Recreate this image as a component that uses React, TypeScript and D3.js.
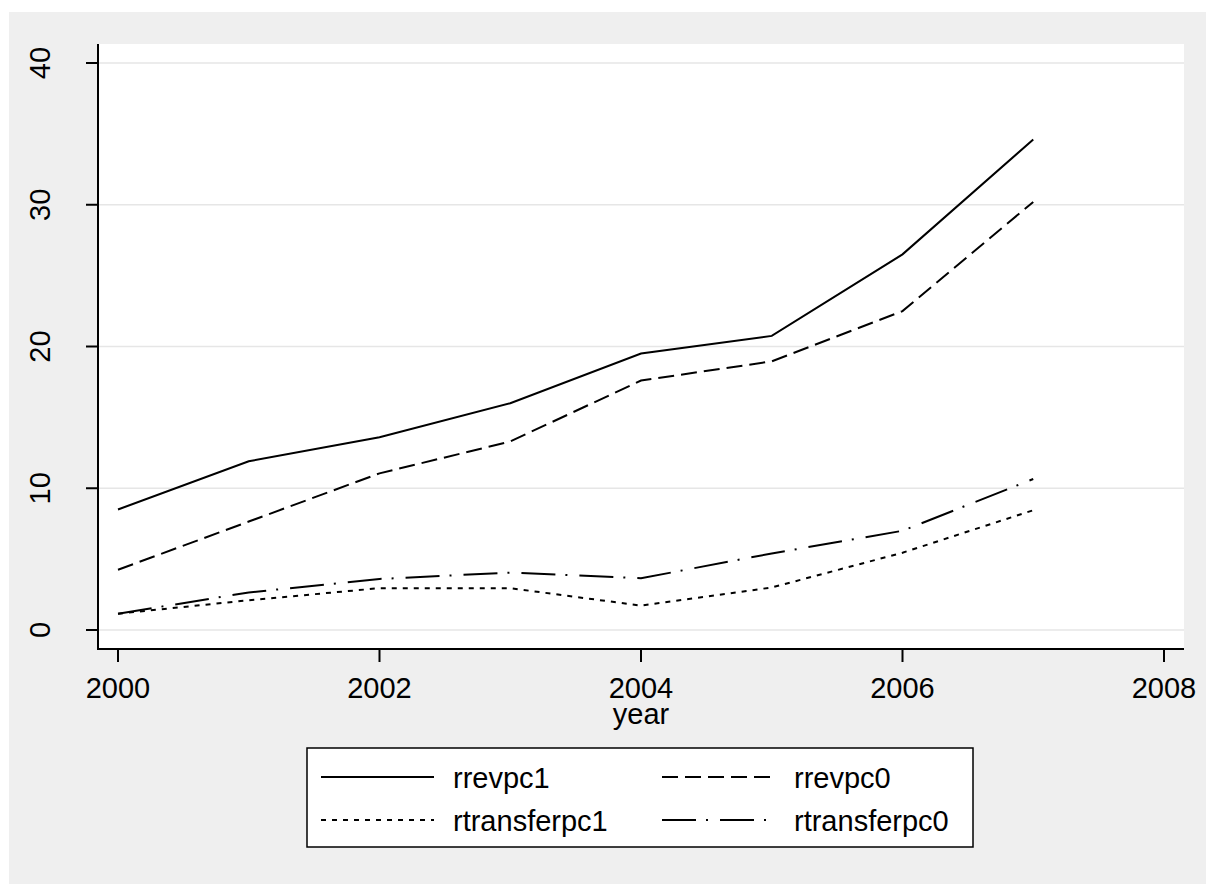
import { useEffect } from "react";
import * as d3 from "d3";

const years = [2000, 2001, 2002, 2003, 2004, 2005, 2006, 2007];
const rrevpc1 = [8.5, 11.9, 13.6, 16.0, 19.5, 20.75, 26.5, 34.6];
const rrevpc0 = [4.25, 7.65, 11.05, 13.3, 17.6, 18.95, 22.5, 30.2];
const rtransferpc1 = [1.15, 2.1, 2.95, 2.95, 1.72, 3.0, 5.45, 8.45];
const rtransferpc0 = [1.15, 2.65, 3.6, 4.05, 3.65, 5.4, 7.0, 10.65];
const xTicks = [2000, 2002, 2004, 2006, 2008];
const yTicks = [0, 10, 20, 30, 40];

const seriesList = [
  { name: "rrevpc1", values: rrevpc1, dash: "none" },
  { name: "rrevpc0", values: rrevpc0, dash: "16,7" },
  { name: "rtransferpc1", values: rtransferpc1, dash: "5,6" },
  { name: "rtransferpc0", values: rtransferpc0, dash: "34,10,2,12" },
];

const font = "'Liberation Sans', Arial, sans-serif";

export default function App() {
  useEffect(() => {
    document.body.style.margin = "0";
    document.body.style.overflow = "hidden";
    document.documentElement.style.overflow = "hidden";
  }, []);

  const left = 98, right = 1184, top = 44, bottom = 649;
  const x = d3.scaleLinear().domain([2000, 2008]).range([118, 1164]);
  const y = d3.scaleLinear().domain([0, 40]).range([630, 63]);

  const line = d3
    .line<number>()
    .x((_, i) => x(years[i]))
    .y((d) => y(d));

  // legend layout: 2 columns x 2 rows
  const legCols = [321, 662];
  const legRows = [777, 820];

  return (
    <svg
      width={1206}
      height={884}
      style={{ position: "absolute", left: 0, top: 0, display: "block" }}
      fontFamily={font}
    >
      <rect x={0} y={0} width={1206} height={884} fill="#ffffff" />
      <rect x={9} y={12} width={1197} height={872} fill="#efefef" />
      <rect x={left} y={top} width={right - left} height={bottom - top} fill="#ffffff" />

      {yTicks.map((t) => (
        <line key={"g" + t} x1={left} x2={right} y1={y(t)} y2={y(t)} stroke="#e6e6e6" strokeWidth={1.5} />
      ))}

      {seriesList.map((s) => (
        <path
          key={s.name}
          d={line(s.values) || ""}
          fill="none"
          stroke="#000"
          strokeWidth={2}
          strokeDasharray={s.dash}
        />
      ))}

      {/* axes */}
      <line x1={left} x2={left} y1={top} y2={bottom + 1} stroke="#000" strokeWidth={2} />
      <line x1={left} x2={right} y1={bottom} y2={bottom} stroke="#000" strokeWidth={2} />
      {yTicks.map((t) => (
        <g key={"y" + t}>
          <line x1={86} x2={left} y1={y(t)} y2={y(t)} stroke="#000" strokeWidth={2} />
          <text
            transform={`translate(50,${y(t)}) rotate(-90)`}
            textAnchor="middle"
            fontSize={29}
            fill="#000"
          >
            {t}
          </text>
        </g>
      ))}
      {xTicks.map((t) => (
        <g key={"x" + t}>
          <line x1={x(t)} x2={x(t)} y1={bottom} y2={662} stroke="#000" strokeWidth={2} />
          <text x={x(t)} y={698} textAnchor="middle" fontSize={29} fill="#000">
            {t}
          </text>
        </g>
      ))}
      <text x={(left + right) / 2} y={724} textAnchor="middle" fontSize={29} fill="#000">
        year
      </text>

      {/* legend */}
      <rect x={307} y={748} width={666} height={99} fill="#fff" stroke="#000" strokeWidth={1.5} />
      {seriesList.map((s, i) => {
        const cx = legCols[i % 2];
        const cy = legRows[Math.floor(i / 2)];
        return (
          <g key={"l" + s.name}>
            <line x1={cx} x2={cx + 113} y1={cy} y2={cy} stroke="#000" strokeWidth={2} strokeDasharray={s.dash} />
            <text x={cx + 132} y={cy + 11} fontSize={29} fill="#000">
              {s.name}
            </text>
          </g>
        );
      })}
    </svg>
  );
}
